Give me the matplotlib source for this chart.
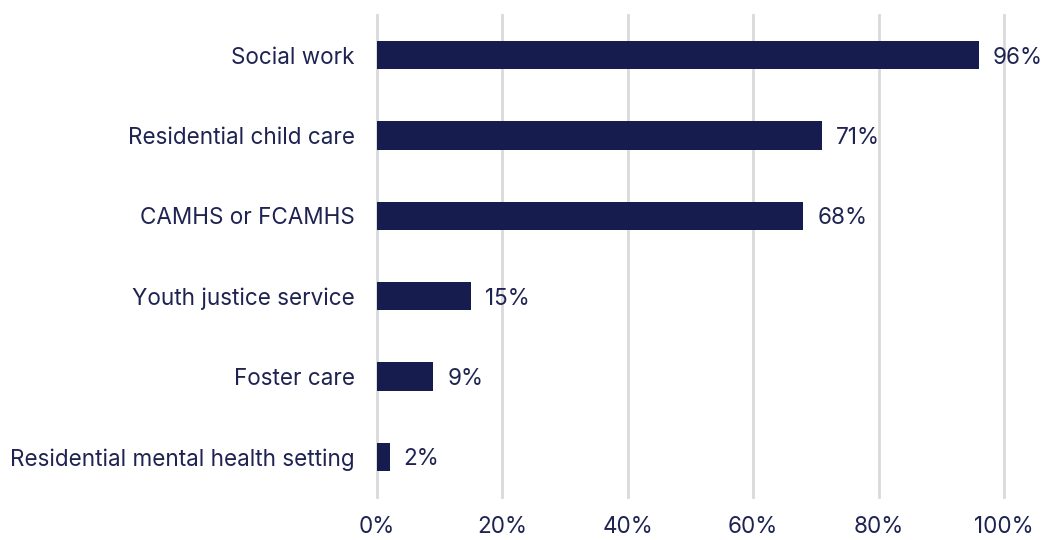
import matplotlib
matplotlib.use("Agg")
import matplotlib.pyplot as plt

categories = ["Social work", "Residential child care", "CAMHS or FCAMHS",
              "Youth justice service", "Foster care", "Residential mental health setting"]
values = [96, 71, 68, 15, 9, 2]
xticks = [0, 20, 40, 60, 80, 100]
xtick_labels = ["0%", "20%", "40%", "60%", "80%", "100%"]

navy = "#161C4E"
text_col = "#1E2352"
fs = 16.2
plt.rcParams['font.family'] = ['Inter', 'DejaVu Sans']

fig = plt.figure(figsize=(10.45, 5.4), dpi=100)
ax = fig.add_axes([377/1045, 1-497/540, (1004-377)/1045, (497-15)/540])

ypos = list(range(len(categories)))
ax.barh(ypos, values, height=0.35, color=navy, zorder=3)
for y, v in zip(ypos, values):
    ax.annotate(f"{v}%", xy=(v, y), xytext=(10, 0), textcoords="offset points",
                va="center_baseline", ha="left", fontsize=fs, color=text_col)

ax.set_xlim(0, 100)
ax.set_ylim(len(categories)-0.5, -0.5)
ax.set_yticks(ypos)
ax.set_yticklabels(categories, fontsize=fs, color=text_col, va="center_baseline")
ax.set_xticks(xticks)
ax.set_xticklabels(xtick_labels, fontsize=fs, color=text_col)
ax.tick_params(axis='y', length=0, pad=16)
ax.tick_params(axis='x', length=0, pad=14)
for s in ax.spines.values():
    s.set_visible(False)
ax.grid(axis='x', color="#D9D9D9", linewidth=2, zorder=0)
ax.grid(axis='y', visible=False)
for gl in ax.get_xgridlines():
    gl.set_clip_on(False)

fig.savefig("out.png", dpi=100)
